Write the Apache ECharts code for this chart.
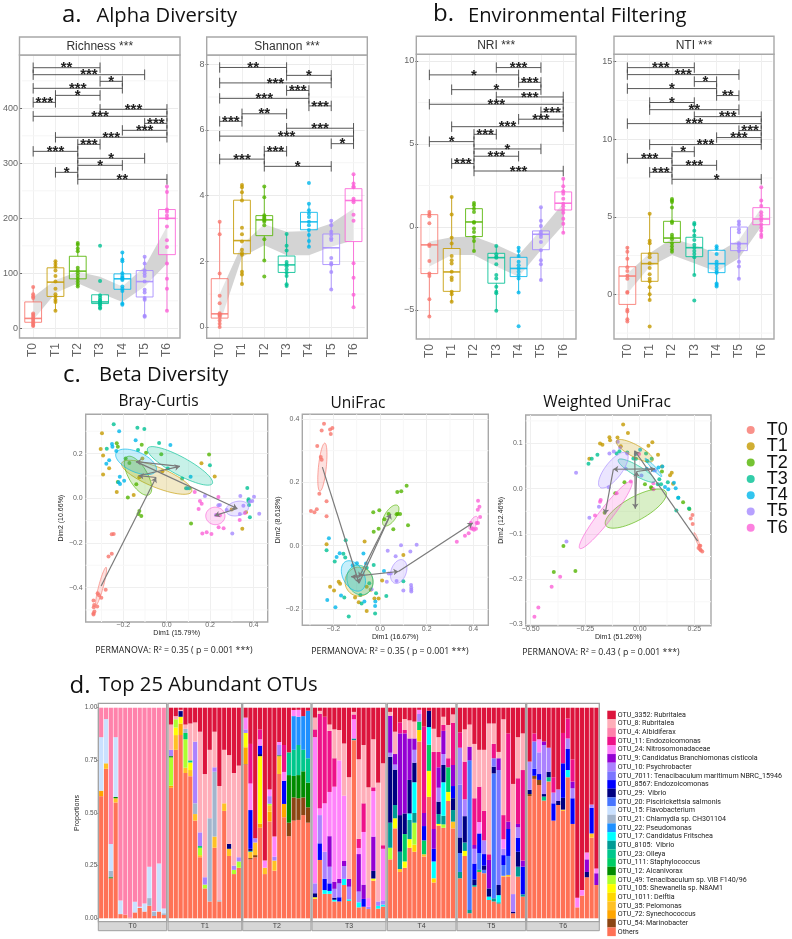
<!DOCTYPE html>
<html><head><meta charset="utf-8">
<style>html,body{margin:0;padding:0;background:#fff}#c{width:792px;height:939px}</style>
<script src="https://cdn.jsdelivr.net/npm/echarts@6/dist/echarts.min.js"></script>
</head><body><div id="c"></div>
<script>
const TIMES = ['T0','T1','T2','T3','T4','T5','T6'];
const TIME_COLORS = ['#F8766D','#C49A00','#53B400','#00C094','#00B6EB','#A58AFF','#FB61D7'];

// [low whisker, Q1, median, Q3, high whisker]
const richnessBox = [[2,11,18,48,76],[32,58,84,110,123],[75,90,104,131,156],[36,45,48,61,61],[44,71,90,99,138],[20,57,85,105,130],[32,134,200,216,258]];
const shannonBox = [[0,.27,.4,1.47,3.2],[1.31,2.23,2.63,3.86,4.33],[2.02,2.78,3.26,3.39,4.28],[1.22,1.66,1.89,2.16,2.83],[2.44,2.96,3.2,3.49,3.75],[1.14,1.9,2.41,2.83,3.23],[.6,2.6,3.85,4.21,4.65]];
const nriBox = [[-5.4,-2.81,-1.08,.74,.9],[-4.52,-3.88,-2.71,-1.3,1.83],[-1.49,-.58,.3,1.1,1.48],[-5.04,-3.39,-1.85,-1.59,-1.14],[-3.96,-2.99,-2.5,-1.83,-1.25],[-3.21,-1.37,-.44,-.24,1.18],[-.36,1.02,1.43,2.11,2.91]];
const ntiBox = [[-1.76,-.65,1.18,1.78,3.03],[-.36,.84,1.98,2.65,5.2],[2.71,3.35,3.63,4.71,6.15],[1.25,2.43,3.01,3.68,4.58],[.54,1.4,1.98,2.84,3.14],[.97,2.82,3.27,4.34,4.73],[3.68,4.49,4.86,5.59,6.9]];

const richnessPts = [[75,62,58,55,27,24,21,18,15,12,9,6,4],[122,117,112,105,95,85,72,62,58,52,48,32],[155,152,145,140,110,105,100,95,90,85,80,76],[150,86,60,56,52,50,48,46,44,42,38,36],[138,125,122,100,95,92,90,88,76,72,68,45,43],[130,118,105,100,95,85,70,65,55,52,23,21],[258,248,216,212,205,200,185,160,148,118,90,72,32]];
const shannonPts = [[3.2,2.82,1.63,.95,.72,.42,.38,.35,.3,.2,.1,0],[4.32,4.25,4.1,3.85,3.02,2.82,2.6,2.35,2.25,2.2,1.68,1.6,1.31],[4.28,3.95,3.4,3.35,3.3,3.25,3.2,3.1,2.67,2.02,1.54],[2.83,2.47,2.33,1.98,1.9,1.85,1.75,1.65,1.55,1.3,1.25],[4.38,3.75,3.55,3.45,3.35,3.2,3.1,2.95,2.8,2.62,2.44],[3.23,3.1,2.9,2.8,2.7,2.65,2.1,1.95,1.9,1.67,1.14],[4.65,4.37,4.28,4.25,3.9,3.85,3.8,3.42,3.23,1.94,1.5,.98,.6]];
const nriPts = [[.9,.75,.65,.23,-1.05,-1.15,-2.05,-2.8,-2.95,-4.35,-5.4],[1.8,.75,-.65,-1,-1.75,-2,-2.2,-2.7,-3.05,-3.2,-3.9,-4.05,-4.5],[1.45,1.3,1.1,.9,.3,.25,-.1,-.3,-.6,-.85,-1.45],[-1.15,-1.65,-1.8,-1.85,-2.25,-2.9,-3.1,-3.6,-3.9,-4,-5.05],[-1.25,-1.45,-1.75,-2.1,-2.3,-2.5,-2.7,-2.9,-3.1,-3.95,-5.98],[1.18,.38,.05,-.3,-.45,-.6,-.9,-1.4,-2,-2.25,-3.2],[2.9,2.45,2.15,2,1.7,1.4,1.25,1.05,.85,.5,.2,-.35]];
const ntiPts = [[3,2.75,2.3,1.75,1.5,1.2,1,.15,.1,-1,-1.1,-1.6,-1.75],[5.2,3.45,3.3,2.6,2.4,2,1.7,1.3,1,.85,.45,0,-.36,-2.08],[6.15,6.05,5.95,5.6,4.7,4.6,3.85,3.7,3.55,3.3,3.1,2.9,2.75],[4.6,4.5,4.1,3.8,3.5,3.2,3,2.8,2.6,2.4,1.25,-.4],[3.1,2.95,2.6,2.1,1.9,1.7,1.5,1.4,.7,.6,.5],[4.7,4.5,4.2,4,3.3,3.2,3,2.8,2.1,1.8,1],[6.9,6.05,5.7,5.3,5.1,4.9,4.75,4.5,4.3,4.1,3.85,3.7]];

const richnessRibbonLow = [15,64,82,64,48,76,118], richnessRibbonHigh = [57,88,103,94,76,112,185];
const shannonRibbonLow = [.1,2.13,2.49,2.18,2.18,2.44,2.64], shannonRibbonHigh = [1,2.5,3.13,2.9,2.92,3.15,3.6];
const nriRibbonLow = [-2.39,-1.69,-1.69,-2.39,-3,-1.39,.12], nriRibbonHigh = [-.88,-.62,-.58,-1.08,-1.69,-.18,1.43];
const ntiRibbonLow = [.06,1.78,2.54,2,1.46,2.32,4.37], ntiRibbonHigh = [1.35,2.65,3.6,3.18,2.65,3.5,5.55];

const richnessTicks=[0,100,200,300,400], shannonTicks=[0,2,4,6,8], nriTicks=[-5,0,5,10], ntiTicks=[0,5,10,15];

// [from, to, y, stars]
const richnessSig = [[0,3,473.9,'**'],[0,5,461.2,'***'],[3,4,449.1,'*'],[0,4,436.4,'***'],[1,3,423.6,'*'],[0,1,410.9,'***'],[3,6,398.2,'***'],[0,6,385.5,'***'],[5,6,372.7,'***'],[4,6,360,'***'],[1,6,347.3,'***'],[2,3,334.5,'***'],[0,2,321.8,'***'],[2,5,309.1,'*'],[2,4,296.4,'*'],[1,2,283.6,'*'],[2,6,270.9,'**']];
const shannonSig = [[0,3,7.9,'**'],[3,5,7.66,'*'],[0,5,7.43,'***'],[3,4,7.2,'***'],[0,4,6.96,'***'],[4,5,6.73,'***'],[1,3,6.49,'**'],[0,1,6.26,'***'],[3,6,6.05,'***'],[0,6,5.81,'***'],[5,6,5.58,'*'],[2,3,5.35,'***'],[0,2,5.11,'***'],[2,5,4.89,'*']];
const nriSig = [[3,5,9.6,'***'],[0,4,9.16,'*'],[4,5,8.71,'***'],[1,5,8.27,'*'],[3,6,7.83,'***'],[0,6,7.39,'***'],[5,6,6.93,'***'],[4,6,6.49,'***'],[1,6,6.04,'***'],[2,3,5.58,'***'],[0,2,5.14,'*'],[2,5,4.7,'*'],[2,4,4.26,'***'],[1,2,3.82,'***'],[2,6,3.37,'***']];
const ntiSig = [[0,3,14.62,'***'],[0,5,14.17,'***'],[3,4,13.72,'*'],[0,4,13.27,'*'],[4,5,12.82,'**'],[1,3,12.37,'*'],[1,5,11.91,'**'],[3,6,11.46,'***'],[0,6,11.01,'***'],[5,6,10.56,'***'],[4,6,10.11,'***'],[1,6,9.66,'***'],[2,3,9.2,'*'],[0,2,8.77,'***'],[2,4,8.32,'***'],[1,2,7.87,'***'],[2,6,7.42,'*']];

const brayPts = [
[[-.337,-.458],[-.334,-.478],[-.336,-.488],[-.337,-.515],[-.333,-.507],[-.318,-.425],[-.312,-.434],[-.32,-.485],[-.301,-.445],[-.281,-.41],[-.268,-.261],[-.253,-.248],[-.253,-.161],[-.244,-.16],[-.337,-.52]],
[[-.298,.291],[-.304,.221],[-.293,.191],[-.265,.134],[-.293,.106],[-.23,.028],[-.152,.015],[-.112,.178],[-.126,.094],[-.02,.121],[.16,.157],[.221,.097],[.365,-.063],[.348,-.137],[.299,-.05]],
[[-.23,.246],[-.225,.231],[-.115,.24],[-.095,.204],[-.025,.197],[-.172,.158],[-.189,.178],[-.225,.073],[-.14,.063],[-.179,.003],[-.126,-.057],[-.117,-.079],[-.13,-.07],[.112,-.113],[.195,.196]],
[[-.244,.331],[-.135,.316],[-.103,.31],[-.035,.248],[-.132,.216],[-.276,.222],[.005,.133],[.071,.088],[.089,.045],[.104,.045],[.199,.148],[.371,.046],[.377,-.004],[.379,-.03],[.383,-.085],[.376,-.012]],
[[-.219,.3],[-.143,.26],[.017,.239],[-.252,.243],[-.25,.231],[-.232,.212],[-.265,.17],[-.278,.155],[-.216,.096],[-.196,.078],[-.215,.064],[-.222,.072],[.11,.096],[.095,.045]],
[[.176,.01],[.339,.01],[.402,.007],[.394,-.012],[.383,-.015],[.426,-.069],[.238,-.031],[.245,-.03],[.337,-.07],[.302,-.158],[.227,-.075],[.276,-.052],[.353,-.034]],
[[.129,.028],[.153,-.012],[.161,-.025],[.147,-.048],[.238,.006],[.164,-.158],[.184,-.152],[.206,-.16],[.239,-.13],[.262,-.134],[.336,-.097],[.232,-.075],[.245,-.076],[.36,-.066]]];
const uniPts = [
[[-.24,.385],[-.25,.364],[-.214,.367],[-.204,.372],[-.211,.353],[-.269,.315],[-.254,.28],[-.25,.271],[-.26,.164],[-.229,.14],[-.229,.093],[-.296,.109],[-.281,.105],[-.271,.115]],
[[-.229,.004],[-.066,.013],[.1,-.03],[-.177,-.114],[-.171,-.121],[-.214,-.13],[-.197,-.142],[-.107,-.164],[-.091,-.179],[-.057,-.207],[-.04,-.14],[-.057,-.13],[-.024,-.167],[-.006,-.167],[.009,-.11]],
[[.114,.189],[.091,.172],[.074,.169],[-.003,.112],[-.029,.105],[.019,.083],[.076,.1],[.086,.1],[.037,.1],[-.027,.044],[-.006,.053],[.057,.052],[.12,.064],[.071,.099]],
[[-.147,.017],[-.229,-.015],[-.157,-.026],[-.149,-.038],[-.194,-.05],[-.027,-.061],[-.057,-.07],[-.046,-.119],[.1,-.113],[.027,-.159],[-.084,-.156],[-.153,-.164],[-.079,-.183],[-.021,-.215],[-.134,-.224],[-.017,-.151]],
[[-.219,.023],[-.071,-.025],[-.173,-.024],[-.186,-.036],[-.06,-.057],[-.099,-.056],[-.117,-.062],[.017,-.08],[-.226,-.172],[-.167,-.158],[-.191,-.195],[-.067,-.177],[-.02,-.177],[-.021,-.191]],
[[.033,-.016],[.09,.001],[.157,.003],[.067,-.034],[.13,-.019],[.029,-.114],[.037,-.088],[.046,-.088],[.071,-.112],[.1,-.142],[.133,-.125],[.134,-.133],[.134,-.14],[.134,-.145],[-.036,-.138]],
[[.42,.142],[.426,.123],[.419,.113],[.429,.09],[.414,.071],[.42,.071],[.397,.053],[.411,.053],[.403,.05],[.393,.055],[.389,.071],[.329,.012],[.364,.031],[.38,.039]]];
const wuniPts = [
[[.242,-.058],[.234,-.066],[.243,-.078],[.274,-.126],[.278,-.126],[.27,-.131],[.277,-.134],[.287,-.139],[.28,-.136]],
[[-.076,.142],[-.054,.123],[-.139,.114],[-.102,.113],[-.182,.1],[-.171,.097],[-.136,.107],[.058,.103],[.04,.095],[.084,.075],[-.087,.094],[.153,.011],[.139,.03],[.147,.035],[.102,.049],[-.231,.066]],
[[.228,-.045],[.199,-.03],[.024,.01],[.052,.003],[-.07,.014],[-.112,-.01],[-.161,-.053],[-.35,-.127],[-.394,-.184],[-.295,-.182],[.102,.038],[.055,.001]],
[[-.194,.075],[-.22,.066],[-.235,.055],[-.106,.078],[-.093,.083],[-.057,.08],[-.029,.067],[.029,.078],[-.017,.066],[.055,.066],[.177,-.02],[.168,-.048],[.226,-.044],[.09,.021],[.098,.01],[.129,.014],[.083,.01],[.034,.061]],
[[.002,.086],[.086,.047],[.104,.049],[.157,.013],[.165,.001],[.131,-.001],[.116,.004],[.177,-.02],[.064,.041],[-.018,.077],[.032,.044]],
[[-.101,.104],[-.119,.082],[-.139,.078],[-.292,.035],[-.064,.044],[.008,.029],[-.187,-.04],[-.231,-.064],[-.336,-.117],[-.09,.091],[-.142,.003],[-.057,.078],[.07,.04]],
[[-.003,.077],[-.041,.016],[-.106,-.01],[-.179,-.025],[-.182,-.029],[-.205,-.059],[-.365,-.195],[-.404,-.217],[-.465,-.263],[-.483,-.283],[.063,-.001],[.063,.012]]];

// ellipse: centre x, centre y, semi-axis a (dx,dy), semi-axis b (dx,dy)
const brayEllipses = [[-.302,-.393,.023,.084,.0103,-.0027],[-.046,.094,.161,-.064,-.0175,-.0415],[-.132,.101,.051,-.085,.037,.021],[.061,.145,.149,-.079,-.02,-.035],[-.141,.163,.092,-.04,-.019,-.041],[.325,-.046,.052,.012,.0077,-.031],[.224,-.079,.044,-.0045,-.0046,-.039]];
const uniEllipses = [[-.247,.248,.01,.076,.017,.001],[-.09,-.114,.06,0,0,-.046],[.046,.095,.029,.032,.02,-.0095],[-.086,-.109,.026,-.044,.05,.016],[-.114,-.096,.029,-.047,.043,.0105],[.08,-.082,.017,.037,.031,-.0074],[.4,.071,.014,.021,.013,-.004]];
const wuniEllipses = [[.262,-.112,.012,-.015,.0046,.0011],[-.023,.084,.084,-.022,-.013,-.0117],[-.018,-.044,.138,.037,.026,-.0226],[-.014,.04,.084,-.024,-.012,-.0095],[.063,.047,.038,-.02,-.0057,-.0025],[-.121,.041,.061,.038,.03,-.0113],[-.156,-.058,.119,.074,.024,-.0091]];

const brayCentroids = [[-.302,-.393],[-.049,.093],[-.129,.101],[.06,.143],[-.141,.164],[.325,-.046],[.221,-.078]];
const uniCentroids = [[-.247,.248],[-.09,-.119],[.046,.1],[-.09,-.1],[-.123,-.098],[.079,-.082],[.397,.071]];
const wuniCentroids = [[.266,-.116],[-.023,.084],[-.02,-.044],[-.014,.038],[.07,.044],[-.121,.043],[-.159,-.056]];

const brayXTicks=[-.2,0,.2,.4], brayYTicks=[-.4,-.2,0,.2];
const uniXTicks=[-.2,0,.2,.4], uniYTicks=[-.2,0,.2,.4];
const wuniXTicks=[-.5,-.25,0,.25], wuniYTicks=[-.3,-.2,-.1,0,.1];

const OTU_NAMES = ['OTU_3352: Rubritalea','OTU_8: Rubritalea','OTU_4: Albidiferax','OTU_11: Endozoicomonas','OTU_24: Nitrosomonadaceae','OTU_9: Candidatus Branchiomonas cisticola','OTU_10: Psychrobacter','OTU_7011: Tenacibaculum maritimum NBRC_15946','OTU_8567: Endozoicomonas','OTU_29:  Vibrio','OTU_20: Piscirickettsia salmonis','OTU_15: Flavobacterium','OTU_21: Chlamydia sp. CH301104','OTU_22: Pseudomonas','OTU_17: Candidatus Fritschea','OTU_8105:  Vibrio','OTU_23: Olleya','OTU_111: Staphylococcus','OTU_12: Alcanivorax','OTU_49: Tenacibaculum sp. VIB F140/96','OTU_105: Shewanella sp. N8AM1','OTU_1011: Delftia','OTU_35: Pelomonas','OTU_72: Synechococcus','OTU_54: Marinobacter','Others'];
const OTU_COLORS = ['#DC143C','#FFAEB9','#FF82AB','#EE1289','#FF83FA','#9400D3','#AB82FF','#7B75FF','#0000FF','#000080','#4876FF','#CAE1FF','#A2B5CD','#1E90FF','#00FFFF','#009B95','#00C78C','#00CD66','#008B00','#ADFF2F','#FFFF00','#FFD700','#FFC125','#FFA500','#8B4513','#FF7256'];
const [A,B,C,D,E,F,G,H,I,J,K,L,M,N,O,P,Q,R,S,T,U,V,W,X,Y,Z] = OTU_NAMES.map((_, idx) => idx);

// each sample: otu, cumulative top (%) from the bottom of the bar
const samplesT0 = [[Z,58,X,60.6,L,86,C,100],[Z,71,W,73.6,L,94.6,C,100],[Z,19,S,19.5,M,22.6,L,35.3,C,100],[Z,55,W,57,S,57.6,L,86,C,100],[Z,2,L,8.4,C,100],[Z,1.7,C,100],[Z,.4,C,100],[Z,2.8,L,7.9,C,100],[Z,4.9,L,5.5,C,100],[Z,3.2,L,7,C,100],[Z,6,M,9.6,L,24.5,C,100],[Z,1.1,M,3,L,3.5,C,100],[Z,3.2,L,26,C,100],[Z,1.6,M,2.4,L,4.7,C,100]];
const samplesT1 = [[Z,62,X,63,T,76.4,S,77,G,80,B,92,A,100],[Z,80,W,87,U,90.6,T,94.5,B,96,A,100],[Z,87,X,92.5,U,95.7,J,98.4,G,98.6,B,99,A,100],[Z,69,W,71.5,T,85,R,88,M,90,B,92,A,100],[Z,67.5,W,70.4,U,74,Q,75,B,92.5,A,100],[Z,46.4,W,49.5,M,54.6,G,83.9,B,93,A,100],[Z,29,W,30,T,33.5,R,34.3,G,40.8,B,88.6,A,100],[Z,14.2,T,16,G,19.5,B,68.5,A,100],[Z,8,M,47.5,B,80,A,100],[Z,33.5,W,38.8,M,69.6,G,71.7,B,88.6,A,100],[Z,8,M,8.6,B,62.8,A,100],[Z,51,W,54.6,B,80,A,100],[Z,29.6,W,33,J,35.3,B,77.5,A,100],[Z,21,T,23,G,25,B,69,A,100],[Z,24,T,27,G,29,B,72.5,A,100]];
const samplesT2 = [[Z,73,Y,73.2,X,81.2,U,88,G,89.7,E,95.3,A,100],[Z,28,Y,28.6,W,31.6,P,32,J,33,I,51.4,E,64,D,82.8,A,100],[Z,29,Y,30,W,36,G,38,A,100],[Z,43,X,45,U,77,J,78,I,82,E,85,D,89.7,A,100],[Z,21,W,24,E,27.4,A,100],[Z,46,X,50.6,W,53.7,T,54.4,G,58,E,61.2,A,100],[Z,22.6,W,27.4,G,29.3,E,38.8,A,100],[Z,68.5,W,77,S,77.4,G,82.3,E,83.7,A,100],[Z,48,X,54.3,I,65.3,E,69.5,D,82.3,A,100],[Z,39,Y,45.4,S,68,Q,78.8,A,100],[Z,46.4,Y,57.4,S,67.6,Q,80,N,96,E,98.9,A,100],[Z,46.7,Y,57,S,68,Q,82.3,N,95.7,E,99,A,100],[Z,49,Y,57.4,S,69.8,Q,80,N,96,A,100],[Z,45.4,Y,52.7,S,64.4,Q,76,N,98.6,A,100]];
const samplesT3 = [[Z,9.3,U,10,J,11.9,G,16.6,E,86,D,89.7,B,95.3,A,100],[Z,27.7,I,35.6,G,49,E,52.2,D,97,B,98.5,A,100],[Z,11.6,O,13.4,I,18.7,G,31.6,E,54.6,D,95.7,A,100],[Z,11.6,O,13,I,16.6,G,24.5,F,39,E,60,D,89,B,92,A,100],[Z,8,O,8.8,J,9.8,G,14,F,17.4,E,62.5,D,76,B,89.7,A,100],[Z,8,I,10,G,16.6,F,18.7,E,75,B,89.4,A,100],[Z,15.8,O,18.7,G,24.8,F,27.2,E,58.2,B,83,A,100],[Z,8.2,O,9,G,15,F,18.7,B,67,A,100],[Z,84.6,P,85.4,E,94.5,D,96.8,B,98,A,100],[Z,5.2,O,7.6,G,12.7,F,30.5,E,33.4,D,37.7,B,75.5,A,100],[Z,5.5,I,9.2,F,16,E,41,D,54.6,B,82.3,A,100],[Z,4.4,G,5.5,E,9.6,B,62.2,A,100],[Z,17.9,U,18.9,J,22.5,F,38.8,E,60.4,D,62.2,B,85,A,100],[Z,4.6,O,5.9,G,8,B,64.4,A,100],[Z,5.6,O,6.5,G,8.5,E,33,D,34.7,B,73.6,A,100]];
const samplesT4 = [[Z,28,T,33.5,P,45.4,J,76.7,G,78.6,F,96.2,B,98,A,100],[Z,42.7,U,47.5,P,53.8,J,70.6,G,73,F,78,B,88.6,A,100],[Z,22,W,23.4,P,31.6,J,49,F,87.8,D,93,A,100],[Z,24,U,27,R,40,J,49.8,F,87.8,D,89.4,B,94.6,A,100],[Z,33.5,U,37.6,P,46.7,O,49.8,J,65.7,F,85.4,B,94,A,100],[Z,31.6,V,35,T,45.4,P,50,O,64.6,J,73.9,G,80,F,85.4,B,93.4,A,100],[Z,84,V,89.4,R,93.4,G,97,E,99,A,100],[Z,29.3,W,30.4,R,37,I,43.8,F,50,D,91,A,100],[Z,57.7,U,70,R,82.4,O,90.8,J,98.5,A,100],[Z,17,V,19,O,27,I,33,F,42.4,D,79,B,90,A,100],[Z,44,U,44.8,P,49.5,J,55.4,G,62,F,71.7,D,79,B,86,A,100],[Z,43,T,44.6,P,48.7,O,64.6,J,72.8,G,78,F,89,D,91.8,B,95.7,A,100],[Z,55.7,U,60,R,71.7,D,76,B,91.8,A,100],[Z,42.7,W,45.9,P,51.4,J,57,I,62.8,F,72.8,D,92.9,B,96.8,A,100]];
const samplesT5 = [[Z,19,P,22,K,31,J,38.4,G,56,H,81,D,88.3,A,100],[Z,29.6,U,32,P,36,J,48.5,G,56.5,D,74.4,B,89.7,A,100],[Z,2.4,P,4,K,75,F,81.5,B,92,A,100],[Z,15,P,15.8,J,18.5,I,26,G,33,F,34.8,D,57,B,82.8,A,100],[Z,22,R,23,K,31,I,40.3,E,45.7,D,62.5,B,80,A,100],[Z,21.4,K,23,J,25,I,30.5,G,37,D,51,B,80,A,100],[Z,8.7,O,10.3,J,14.2,F,27.7,D,30.4,B,92.5,A,100],[Z,8,P,9.5,K,68.8,J,72,H,76,D,82.8,B,92.5,A,100],[Z,7,P,7.6,O,11,J,15.8,H,70.4,F,76,B,79,A,100],[Z,19.8,W,20.2,K,25.3,I,30,G,33,E,37.5,D,49,B,94.5,A,100],[Z,19.8,W,20.6,K,29.6,I,42.4,F,45.9,D,87.8,A,100],[Z,2.4,J,3,G,11.5,B,63.8,A,100],[Z,19.8,P,24.5,J,31.6,I,38.3,G,43.2,F,44.8,D,66.5,B,86,A,100],[Z,10.3,P,11.4,I,24.5,F,27.4,D,70.4,B,87.8,A,100]];
const samplesT6 = [[Z,58,Y,59,J,61,G,74.4,A,100],[Z,66.2,Y,67.7,I,71,H,84,D,87.8,A,100],[Z,63.3,Y,65.7,I,68.5,G,78.8,E,85,A,100],[Z,55.9,Q,57.8,J,59,G,82.3,F,84,A,100],[Z,65,Q,67,J,69.6,G,81,A,100],[Z,46.4,I,54.6,G,59.7,D,67,A,100],[Z,53.8,J,55.7,G,61.2,A,100],[Z,51,W,51.6,I,68,J,73.6,D,88,A,100],[Z,67,O,70.4,I,80.4,G,85.4,D,94.9,A,100],[Z,44.8,I,57,G,61.7,F,64.9,D,75.5,A,100],[Z,5.2,E,9.8,A,100],[Z,10.8,E,13.4,A,100],[Z,19.5,J,22,F,28,E,31.2,A,100],[Z,38.3,W,40.3,I,52.5,G,54,A,100],[Z,15.8,F,21.4,E,23.7,A,100]];
const facetSamples = [samplesT0,samplesT1,samplesT2,samplesT3,samplesT4,samplesT5,samplesT6];

const FONT = '"Liberation Sans"', HEAD = '"Open Sans"';
const grids=[], xAxes=[], yAxes=[], series=[], gfx=[];
const txt=(text,x,y,size,extra={})=>gfx.push({type:'text',silent:true,z:50,style:Object.assign({text,x,y,fill:'#111',font:`${size}px ${HEAD}`,textAlign:'left',textVerticalAlign:'middle'},extra)});
const frame=(x,y,w,h,extra={})=>gfx.push({type:'rect',silent:true,z:40,shape:{x,y,width:w,height:h},style:Object.assign({fill:'none',stroke:'#A8A8A8',lineWidth:1.4},extra)});
const minus=s=>String(s).replace('-','\u2212');
const midpoints=(ticks,lo,hi)=>{const s=ticks[1]-ticks[0],out=[];ticks.concat([ticks[ticks.length-1]+s]).forEach(t=>{const m=t-s/2;if(m>lo&&m<hi)out.push(m);});return out;};
function minorGrid(g,xs,ys,color){
  series.push({type:'custom',xAxisIndex:g,yAxisIndex:g,silent:true,z:0,data:[[0,0]],renderItem:(p,api)=>{
    const box=p.coordSys,ch=[],st={stroke:color,lineWidth:1};
    ys.forEach(v=>{const py=api.coord([0,v])[1];ch.push({type:'line',shape:{x1:box.x,y1:py,x2:box.x+box.width,y2:py},style:st});});
    xs.forEach(v=>{const px=api.coord([v,0])[0];ch.push({type:'line',shape:{x1:px,y1:box.y,x2:px,y2:box.y+box.height},style:st});});
    return {type:'group',children:ch};
  }});
}

function boxPanel(cfg){
  const g=grids.length;
  grids.push({left:cfg.left,top:cfg.top,width:156.2,height:cfg.bottom-cfg.top});
  xAxes.push({gridIndex:g,type:'category',data:TIMES,axisLine:{show:false},
    axisTick:{alignWithLabel:true,length:3,lineStyle:{color:'#666'}},
    axisLabel:{rotate:90,fontSize:12,color:'#666',fontFamily:FONT,margin:5,interval:0},
    splitLine:{show:true,alignWithLabel:true,interval:0,lineStyle:{color:'#EFEFEF'}}});
  yAxes.push({gridIndex:g,type:'value',min:cfg.min,max:cfg.max,axisLine:{show:false},
    axisTick:{show:true,length:3,lineStyle:{color:'#666'},customValues:cfg.ticks},
    splitLine:{lineStyle:{color:'#EBEBEB'}},
    axisLabel:{fontSize:9,color:'#666',fontFamily:FONT,margin:4,customValues:cfg.ticks,formatter:v=>minus(v)}});
  minorGrid(g,[],midpoints(cfg.ticks,cfg.min,cfg.max),'#F5F5F5');
  frame(cfg.frameX,cfg.top,cfg.frameW,cfg.bottom-cfg.top);
  frame(cfg.frameX,cfg.top-18,cfg.frameW,18,{fill:'#fff'});
  txt(cfg.title,cfg.frameX+cfg.frameW/2,cfg.top-8.5,12,{font:`12px ${FONT}`,textAlign:'center',fill:'#333'});
  series.push({type:'custom',xAxisIndex:g,yAxisIndex:g,silent:true,z:1,data:[[0,0]],renderItem:(p,api)=>{
    const up=cfg.high.map((v,i)=>api.coord([i,v])), lo=cfg.low.map((v,i)=>api.coord([i,v])).reverse();
    return {type:'polygon',shape:{points:up.concat(lo)},style:{fill:'#D4D4D4'}};
  }});
  series.push({type:'custom',xAxisIndex:g,yAxisIndex:g,silent:true,z:2,data:cfg.box.map((b,i)=>[i,b[2]]),renderItem:(p,api)=>{
    const i=p.dataIndex,b=cfg.box[i],x=api.coord([i,0])[0],hw=8.4,c=TIME_COLORS[i],py=v=>api.coord([i,v])[1];
    const st={stroke:c,lineWidth:1,fill:'none',opacity:.85};
    return {type:'group',children:[
      {type:'line',shape:{x1:x,y1:py(b[0]),x2:x,y2:py(b[1])},style:st},
      {type:'line',shape:{x1:x,y1:py(b[3]),x2:x,y2:py(b[4])},style:st},
      {type:'rect',shape:{x:x-hw,y:py(b[3]),width:2*hw,height:py(b[1])-py(b[3])},style:Object.assign({},st,{fill:'rgba(255,255,255,.45)'})},
      {type:'line',shape:{x1:x-hw,y1:py(b[2]),x2:x+hw,y2:py(b[2])},style:Object.assign({},st,{lineWidth:1.6})}
    ]};
  }});
  cfg.pts.forEach((vals,i)=>series.push({type:'scatter',name:TIMES[i],xAxisIndex:g,yAxisIndex:g,z:3,symbolSize:4,silent:true,
    itemStyle:{color:TIME_COLORS[i]},data:vals.map(v=>[i,v])}));
  series.push({type:'custom',xAxisIndex:g,yAxisIndex:g,silent:true,z:4,data:cfg.sig.map(s=>[s[0],s[2]]),renderItem:(p,api)=>{
    const s=cfg.sig[p.dataIndex],a=api.coord([s[0],s[2]]),b=api.coord([s[1],s[2]]),tip=5.2;
    const st={stroke:'#444',lineWidth:.9,fill:'none'};
    return {type:'group',children:[
      {type:'line',shape:{x1:a[0],y1:a[1],x2:b[0],y2:b[1]},style:st},
      {type:'line',shape:{x1:a[0],y1:a[1]-tip,x2:a[0],y2:a[1]+tip},style:st},
      {type:'line',shape:{x1:b[0],y1:b[1]-tip,x2:b[0],y2:b[1]+tip},style:st},
      {type:'text',style:{text:s[3],x:(a[0]+b[0])/2,y:a[1]+.5,font:`bold 15px ${FONT}`,fill:'#222',textAlign:'center',textVerticalAlign:'middle'}}
    ]};
  }});
}
boxPanel({title:'Richness ***',frameX:19.5,frameW:160.5,left:21.9,top:55,bottom:338,min:-17.6,max:497,ticks:richnessTicks,box:richnessBox,pts:richnessPts,sig:richnessSig,low:richnessRibbonLow,high:richnessRibbonHigh});
boxPanel({title:'Shannon ***',frameX:206.7,frameW:160.6,left:208.5,top:55,bottom:338.3,min:-.345,max:8.28,ticks:shannonTicks,box:shannonBox,pts:shannonPts,sig:shannonSig,low:shannonRibbonLow,high:shannonRibbonHigh});
boxPanel({title:'NRI ***',frameX:416.3,frameW:159.7,left:418.2,top:54.3,bottom:339,min:-6.75,max:10.4,ticks:nriTicks,box:nriBox,pts:nriPts,sig:nriSig,low:nriRibbonLow,high:nriRibbonHigh});
boxPanel({title:'NTI ***',frameX:614,frameW:160,left:616.2,top:54.3,bottom:339,min:-2.88,max:15.48,ticks:ntiTicks,box:ntiBox,pts:ntiPts,sig:ntiSig,low:ntiRibbonLow,high:ntiRibbonHigh});

function ordPanel(cfg){
  const g=grids.length;
  grids.push({left:cfg.left,top:cfg.top,width:cfg.width,height:cfg.height,show:true,borderColor:'#A8A8A8',borderWidth:1.4,backgroundColor:'#fff'});
  const axis=(ticks,dec,name,gap,margin)=>({type:'value',gridIndex:g,axisLine:{show:false},
    axisTick:{show:false,customValues:ticks},splitLine:{lineStyle:{color:'#EFEFEF'}},
    name,nameGap:gap,nameLocation:'middle',nameTextStyle:{fontSize:7,color:'#222',fontFamily:FONT},
    axisLabel:{fontSize:7,color:'#666',fontFamily:FONT,margin,customValues:ticks,formatter:v=>minus(v.toFixed(dec))}});
  xAxes.push(Object.assign(axis(cfg.xTicks,cfg.xDec,cfg.xName,5,0),{min:cfg.x[0],max:cfg.x[1]}));
  yAxes.push(Object.assign(axis(cfg.yTicks,1,cfg.yName,4,3),{min:cfg.y[0],max:cfg.y[1]}));
  minorGrid(g,midpoints(cfg.xTicks,cfg.x[0],cfg.x[1]),midpoints(cfg.yTicks,cfg.y[0],cfg.y[1]),'#F7F7F7');
  cfg.pts.forEach((vals,i)=>series.push({type:'scatter',name:TIMES[i],xAxisIndex:g,yAxisIndex:g,z:3,symbolSize:4,silent:true,itemStyle:{color:TIME_COLORS[i]},data:vals}));
  series.push({type:'custom',xAxisIndex:g,yAxisIndex:g,silent:true,z:4,data:cfg.ell.map(e=>[e[0],e[1]]),renderItem:(p,api)=>{
    const e=cfg.ell[p.dataIndex],c=TIME_COLORS[p.dataIndex],poly=[];
    for(let k=0;k<60;k++){const t=k/60*2*Math.PI,ct=Math.cos(t),st=Math.sin(t);
      poly.push(api.coord([e[0]+e[2]*ct+e[4]*st,e[1]+e[3]*ct+e[5]*st]));}
    return {type:'polygon',shape:{points:poly},style:{fill:c,fillOpacity:.22,stroke:c,strokeOpacity:.8,lineWidth:.8}};
  }});
  series.push({type:'lines',coordinateSystem:'cartesian2d',xAxisIndex:g,yAxisIndex:g,silent:true,z:5,symbol:['none','arrow'],symbolSize:5,
    lineStyle:{color:'#7A7A7A',width:1.2,opacity:1},
    data:cfg.cen.slice(0,-1).map((c,i)=>({coords:[c,cfg.cen[i+1]]}))});
}
ordPanel({left:85.7,top:414.3,width:182,height:207.7,x:[-.373,.465],y:[-.554,.376],xTicks:brayXTicks,yTicks:brayYTicks,xDec:1,xName:'Dim1 (15.79%)',yName:'Dim2 (10.66%)',pts:brayPts,ell:brayEllipses,cen:brayCentroids});
ordPanel({left:302.3,top:414.3,width:186,height:211,x:[-.333,.464],y:[-.252,.415],xTicks:uniXTicks,yTicks:uniYTicks,xDec:1,xName:'Dim1 (16.67%)',yName:'Dim2 (8.618%)',pts:uniPts,ell:uniEllipses,cen:uniCentroids});
ordPanel({left:525.7,top:415,width:185.3,height:210.7,x:[-.523,.327],y:[-.303,.163],xTicks:wuniXTicks,yTicks:wuniYTicks,xDec:2,xName:'Dim1 (51.26%)',yName:'Dim2 (12.46%)',pts:wuniPts,ell:wuniEllipses,cen:wuniCentroids});

const facetBounds=[[98.3,166.7],[168,241.7],[242.7,311],[312,386],[387.3,456],[457,525.7],[526.7,599.3]];
facetSamples.forEach((samples,f)=>{
  const g=grids.length,[x0,x1]=facetBounds[f];
  grids.push({left:x0+.5,width:x1-x0-1,top:707.7,height:210.6});
  xAxes.push({gridIndex:g,type:'category',data:samples.map((_,i)=>i+1),axisLine:{show:false},axisTick:{show:false},axisLabel:{show:false}});
  yAxes.push({gridIndex:g,type:'value',min:0,max:1,interval:.25,axisLine:{show:false},splitLine:{show:false},
    axisTick:{show:f===0,length:1.5,lineStyle:{color:'#666'}},
    axisLabel:{show:f===0,fontSize:6.5,color:'#555',fontFamily:FONT,margin:1.5,formatter:v=>v.toFixed(2)},
    name:f===0?'Proportions':'',nameLocation:'middle',nameGap:13.5,nameTextStyle:{fontSize:7,color:'#222',fontFamily:FONT}});
  const matrix=OTU_NAMES.map(()=>samples.map(()=>0));
  samples.forEach((s,i)=>{let prev=0;for(let k=0;k<s.length;k+=2){matrix[s[k]][i]+=(s[k+1]-prev)/100;prev=s[k+1];}});
  for(let k=Z;k>=A;k--) series.push({type:'bar',name:OTU_NAMES[k],xAxisIndex:g,yAxisIndex:g,stack:'f'+f,barCategoryGap:'13%',silent:true,
    itemStyle:{color:OTU_COLORS[k]},data:matrix[k]});
  frame(x0,703.3,x1-x0,218.4,{stroke:'#A0A0A0',lineWidth:1.3});
  frame(x0,921.7,x1-x0,9,{fill:'#D6D6D6',stroke:'#A0A0A0',lineWidth:1});
  txt(TIMES[f],(x0+x1)/2,926.3,7,{font:`7px ${FONT}`,textAlign:'center',fill:'#444'});
});

txt('a.',62,15,24); txt('Alpha Diversity',96.5,16,20.2);
txt('b.',433,14,24); txt('Environmental Filtering',468,16,20.2);
txt('c.',63,375,24); txt('Beta Diversity',99,375,20.2);
txt('d.',69.5,686,24); txt('Top 25 Abundant OTUs',99,685,20.2);
txt('Bray-Curtis',158.5,402,15.5,{textAlign:'center'});
txt('UniFrac',358,404,15.5,{textAlign:'center'});
txt('Weighted UniFrac',607,403,15.5,{textAlign:'center'});
const PERM=['PERMANOVA: R\u00B2 = 0.35 ( p = 0.001 ***)','PERMANOVA: R\u00B2 = 0.35 ( p = 0.001 ***)','PERMANOVA: R\u00B2 = 0.43 ( p = 0.001 ***)'];
txt(PERM[0],174,650,8.8,{textAlign:'center',fill:'#222'});
txt(PERM[1],390,651,8.8,{textAlign:'center',fill:'#222'});
txt(PERM[2],601,652,8.8,{textAlign:'center',fill:'#222'});

const chart=echarts.init(document.getElementById('c'),null,{renderer:'canvas',width:792,height:939});
chart.setOption({animation:false,backgroundColor:'#fff',tooltip:{show:false},grid:grids,xAxis:xAxes,yAxis:yAxes,series,
  graphic:{elements:gfx},
  legend:[
    {show:true,data:TIMES,orient:'vertical',left:746.7,top:421,padding:0,icon:'circle',itemWidth:8,itemHeight:8,itemGap:-1.7,selectedMode:false,
     textStyle:{fontSize:18,lineHeight:16.3,color:'#111',fontFamily:FONT,padding:[0,0,0,7]}},
    {show:true,data:OTU_NAMES,orient:'vertical',left:607.3,top:710.7,padding:0,height:228,icon:'rect',itemWidth:8.5,itemHeight:8.67,itemGap:0,selectedMode:false,
     textStyle:{fontSize:7.1,lineHeight:8.67,color:'#222',fontFamily:'Roboto',padding:[0,0,0,-3]}}
  ]});
</script></body></html>
